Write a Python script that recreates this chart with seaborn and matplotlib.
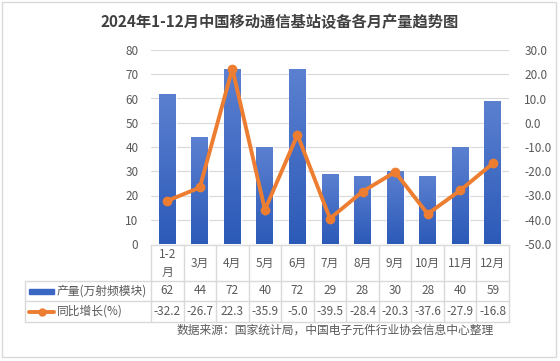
"""2024年1-12月中国移动通信基站设备各月产量趋势图"""

import matplotlib
matplotlib.use("Agg")
import matplotlib.pyplot as plt
import seaborn as sns
import numpy as np
import pandas as pd
from matplotlib.colors import LinearSegmentedColormap
from matplotlib.lines import Line2D
from matplotlib.patches import Rectangle

months = ['1-2\n月', '3月', '4月', '5月', '6月', '7月', '8月', '9月', '10月', '11月', '12月']
output = [62, 44, 72, 40, 72, 29, 28, 30, 28, 40, 59]
growth = [-32.2, -26.7, 22.3, -35.9, -5.0, -39.5, -28.4, -20.3, -37.6, -27.9, -16.8]
output_labels = ['62', '44', '72', '40', '72', '29', '28', '30', '28', '40', '59']
growth_labels = ['-32.2', '-26.7', '22.3', '-35.9', '-5.0', '-39.5', '-28.4', '-20.3', '-37.6', '-27.9', '-16.8']

W, H = 560, 361
BLUE = '#3a67c4'
BLUE_TOP = '#5b80d0'
BLUE_BOT = '#2c5ab8'
ORANGE = '#ed7d31'
GRID = '#d9d9d9'
TXT = '#595959'

sns.set_theme(style='white')
plt.rcParams['font.family'] = ['Noto Sans CJK SC', 'DejaVu Sans']


def fx(x):
    return x / W


def fy(y):
    return 1 - y / H


def gradient_bars(ax):
    # bars lighter at the top, darker at the bottom
    cmap = LinearSegmentedColormap.from_list('bar', [BLUE_BOT, BLUE_TOP])
    grad = np.linspace(0, 1, 100).reshape(-1, 1)
    for p in ax.patches:
        x0, y0 = p.get_x(), p.get_y()
        w, h = p.get_width(), p.get_height()
        p.set_facecolor('none')
        im = ax.imshow(grad, cmap=cmap, aspect='auto', origin='lower',
                       extent=[x0, x0 + w, y0, y0 + h], zorder=2)
        im.set_clip_path(p)


def main():
    df = pd.DataFrame({'month': months, 'output': output, 'growth': growth})

    fig = plt.figure(figsize=(W / 100, H / 100), dpi=100)
    fig.patch.set_facecolor('white')
    # outer border
    fig.add_artist(Rectangle((fx(2), fy(357)), fx(556) - fx(2), fy(2) - fy(357),
                             transform=fig.transFigure, fill=False, edgecolor=GRID, lw=1))

    left, right, top, bottom = 151, 509, 50, 244
    ax = fig.add_axes([fx(left), fy(bottom), fx(right) - fx(left), fy(top) - fy(bottom)])
    sns.barplot(data=df, x='month', y='output', color=BLUE, width=0.52, ax=ax,
                saturation=1, zorder=2)
    gradient_bars(ax)
    ax.set_ylim(0, 80)
    ax.set_xlim(-0.5, len(months) - 0.5)
    ax.set_yticks(range(0, 81, 10))
    ax.tick_params(axis='y', colors=TXT, labelsize=8.5, length=0, pad=9)
    ax.set_xticks([])
    ax.set_xlabel('')
    ax.set_ylabel('')
    ax.yaxis.grid(True, color=GRID, lw=0.8, zorder=0)
    ax.set_axisbelow(True)
    for s in ax.spines.values():
        s.set_visible(False)

    ax2 = ax.twinx()
    ax2.plot(range(len(months)), growth, color=ORANGE, lw=2.8, marker='o', ms=6,
             solid_joinstyle='miter', zorder=3)
    ax2.set_ylim(-50, 30)
    ax2.set_yticks(range(-50, 31, 10))
    ax2.set_yticklabels([f'{v:.1f}' for v in range(-50, 31, 10)])
    ax2.tick_params(axis='y', colors=TXT, labelsize=8.5, length=0, pad=11)
    ax2.grid(False)
    for s in ax2.spines.values():
        s.set_visible(False)

    # title
    fig.text(0.5, fy(22), '2024年1-12月中国移动通信基站设备各月产量趋势图', ha='center', va='center',
             fontsize=11, fontweight='bold', color='#404040')

    # data table
    r0, r1, r2, r3 = 245, 281, 301, 322
    tleft = 25
    colw = (right - left) / len(months)

    def hline(x0, x1, y):
        fig.add_artist(Line2D([fx(x0), fx(x1)], [fy(y), fy(y)], color=GRID, lw=1,
                              transform=fig.transFigure))

    def vline(x, y0, y1):
        fig.add_artist(Line2D([fx(x), fx(x)], [fy(y0), fy(y1)], color=GRID, lw=1,
                              transform=fig.transFigure))

    hline(left, right, r0)
    hline(tleft, right, r1)
    hline(tleft, right, r2)
    hline(tleft, right, r3)
    vline(tleft, r1, r3)
    for i in range(len(months) + 1):
        vline(left + i * colw, r0, r3)

    for i, m in enumerate(months):
        cx = fx(left + (i + 0.5) * colw)
        fig.text(cx, fy((r0 + r1) / 2), m, ha='center', va='center', fontsize=8.5,
                 color=TXT, linespacing=1.5)
        fig.text(cx, fy((r1 + r2) / 2), output_labels[i], ha='center', va='center',
                 fontsize=8.5, color=TXT)
        fig.text(cx, fy((r2 + r3) / 2), growth_labels[i], ha='center', va='center',
                 fontsize=8.5, color=TXT)

    # legend keys in table
    fig.add_artist(Rectangle((fx(29), fy(294)), fx(54) - fx(29), fy(289) - fy(294),
                             transform=fig.transFigure, color=BLUE))
    fig.text(fx(57), fy((r1 + r2) / 2), '产量(万射频模块)', ha='left', va='center',
             fontsize=8.5, color=TXT)
    fig.add_artist(Line2D([fx(29), fx(54)], [fy(311.5), fy(311.5)], color=ORANGE, lw=2.8,
                          transform=fig.transFigure))
    fig.add_artist(Line2D([fx(41.5)], [fy(311.5)], color=ORANGE, marker='o', ms=5,
                          transform=fig.transFigure))
    fig.text(fx(57), fy((r2 + r3) / 2), '同比增长(%)', ha='left', va='center',
             fontsize=8.5, color=TXT)

    # source
    fig.text(fx(335), fy(330), '数据来源：国家统计局，中国电子元件行业协会信息中心整理', ha='center',
             va='center', fontsize=8.5, color=TXT)

    fig.savefig('out.png', dpi=100)


if __name__ == "__main__":
    main()
